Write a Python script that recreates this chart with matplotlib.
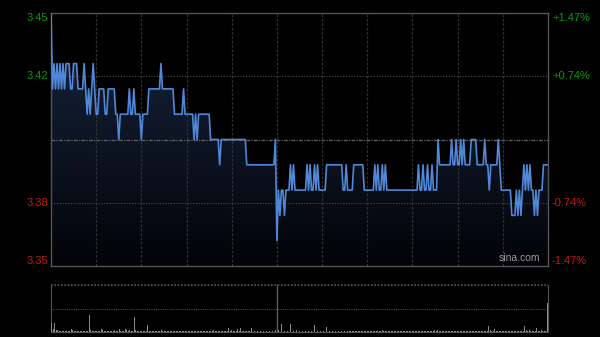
import numpy as np
import matplotlib
matplotlib.use("Agg")
import matplotlib.pyplot as plt
from matplotlib.colors import LinearSegmentedColormap
from matplotlib.patches import Polygon

# ---- data (HK intraday, 9:30-12:00 + 13:00-16:00, one point per minute) ----
prev_close = 3.40
y_ticks = [3.45, 3.42, 3.38, 3.35]
pct_ticks = ["+1.47%", "+0.74%", "-0.74%", "-1.47%"]

am_price = [3.45, 3.42, 3.43, 3.42, 3.43, 3.42, 3.43, 3.42, 3.43, 3.42,
            3.43, 3.42, 3.43, 3.42, 3.43, 3.42, 3.41, 3.42, 3.41, 3.42,
            3.43, 3.42, 3.41, 3.42, 3.41, 3.42, 3.41, 3.40, 3.41, 3.42,
            3.41, 3.42, 3.41, 3.40, 3.41, 3.42, 3.43, 3.42, 3.41, 3.42,
            3.41, 3.40, 3.41, 3.40, 3.41, 3.40, 3.39, 3.40, 3.39, 3.40]
am_len = [1, 1, 1, 1, 1, 1, 1, 1, 1, 1,
          3, 2, 3, 4, 1, 1, 1, 1, 1, 1,
          1, 1, 2, 4, 2, 5, 2, 1, 6, 1,
          2, 1, 4, 1, 4, 8, 1, 8, 6, 1,
          6, 1, 1, 1, 8, 6, 1, 17, 19, 1]

pm_price = [3.36, 3.38, 3.37, 3.38, 3.37, 3.38, 3.39, 3.38, 3.39, 3.38,
            3.39, 3.38, 3.39, 3.38, 3.39, 3.38, 3.39, 3.38, 3.39, 3.38,
            3.39, 3.38, 3.39, 3.38, 3.39, 3.38, 3.39, 3.38, 3.39, 3.38,
            3.39, 3.38, 3.39, 3.38, 3.39, 3.38, 3.39, 3.38, 3.39, 3.38,
            3.40, 3.39, 3.40, 3.39, 3.40, 3.39, 3.40, 3.39, 3.40, 3.39,
            3.40, 3.39, 3.40, 3.39, 3.38, 3.39, 3.40, 3.39, 3.38, 3.37,
            3.38, 3.37, 3.38, 3.37, 3.38, 3.39, 3.38, 3.39, 3.38, 3.39,
            3.38, 3.37, 3.38, 3.37, 3.38, 3.39]
pm_len = [1, 1, 1, 2, 1, 3, 1, 1, 1, 8,
          1, 1, 1, 2, 1, 1, 1, 5, 11, 2,
          1, 4, 7, 7, 1, 1, 1, 2, 1, 1,
          1, 21, 1, 2, 1, 2, 1, 2, 1, 3,
          1, 8, 1, 2, 1, 2, 1, 1, 1, 4,
          4, 5, 1, 2, 1, 5, 1, 1, 7, 3,
          1, 1, 1, 1, 1, 1, 1, 1, 1, 1,
          2, 1, 1, 1, 3, 4]

volume = [20, 6, 20, 5, 4, 3, 3, 2, 2, 3,
          2, 3, 2, 6, 4, 3, 2, 2, 3, 2,
          2, 3, 2, 3, 2, 37, 5, 3, 2, 2,
          3, 2, 2, 6, 4, 3, 2, 2, 3, 2,
          2, 3, 5, 2, 3, 6, 3, 2, 2, 7,
          4, 3, 5, 2, 3, 31, 4, 3, 2, 3,
          2, 3, 2, 3, 15, 3, 2, 2, 3, 2,
          2, 3, 2, 4, 2, 2, 3, 2, 2, 2,
          3, 2, 2, 2, 3, 2, 2, 2, 3, 2,
          2, 2, 3, 2, 2, 2, 3, 2, 2, 3,
          2, 3, 2, 2, 2, 3, 2, 2, 4, 2,
          2, 3, 2, 2, 2, 3, 2, 3, 8, 3,
          4, 2, 3, 2, 6, 2, 8, 3, 2, 2,
          3, 2, 2, 9, 4, 3, 2, 3, 2, 2,
          2, 3, 2, 2, 2, 3, 2, 3, 6, 4,
          18, 4, 3, 16, 3, 2, 3, 2, 3, 16,
          3, 3, 29, 4, 3, 2, 2, 3, 2, 2,
          3, 2, 2, 3, 2, 15, 3, 2, 3, 2,
          2, 3, 2, 10, 3, 2, 2, 3, 2, 2,
          3, 2, 2, 2, 3, 2, 2, 2, 3, 2,
          2, 3, 2, 2, 2, 3, 2, 2, 3, 2,
          2, 3, 2, 2, 3, 2, 2, 3, 2, 2,
          4, 2, 3, 2, 2, 3, 2, 2, 2, 3,
          2, 2, 3, 2, 2, 2, 3, 2, 2, 2,
          3, 2, 2, 2, 3, 2, 2, 2, 3, 2,
          2, 3, 2, 2, 2, 5, 3, 4, 2, 3,
          2, 2, 3, 2, 2, 2, 3, 2, 2, 2,
          3, 2, 2, 2, 3, 2, 2, 2, 3, 2,
          2, 3, 2, 2, 3, 2, 2, 3, 2, 2,
          3, 12, 4, 3, 2, 6, 3, 2, 2, 3,
          2, 2, 3, 2, 2, 3, 2, 2, 3, 2,
          2, 3, 2, 2, 3, 12, 4, 2, 5, 3,
          2, 3, 2, 8, 3, 2, 5, 3, 2, 3,
          62]

price = np.concatenate([np.repeat(am_price, am_len), np.repeat(pm_price, pm_len)])
minutes = np.arange(len(price))
n_end = len(price) - 1
lunch = 150
ylo, yhi = 3.35, 3.45

green = "#0a9a0a"
red = "#c41a10"
grid_c = "#333333"

fig = plt.figure(figsize=(6, 3.37), dpi=100, facecolor="black")
plt.rcParams['font.family'] = ['Liberation Sans', 'DejaVu Sans']

# ---- price panel ----
ax = fig.add_axes([51/600, 1-266/337, 497/600, 253/337])
ax.set_facecolor("black")
ax.set_xlim(0, n_end)
ax.set_ylim(ylo, yhi)

# gradient fill under the line
verts = list(zip(minutes, price)) + [(n_end, ylo), (0, ylo)]
patch = Polygon(verts, closed=True, facecolor="none", edgecolor="none")
ax.add_patch(patch)
cmap = LinearSegmentedColormap.from_list("fill", ["#020307", "#16233b"])
grad = np.linspace(0, 1, 256).reshape(-1, 1)
im = ax.imshow(grad, extent=[0, n_end, ylo, 3.44], origin="lower", aspect="auto",
               cmap=cmap, zorder=1)
im.set_clip_path(patch)

# grid sits over the fill, under the line
for m in range(30, n_end, 30):
    ax.axvline(m, color=grid_c, lw=0.9, ls=(0, (2, 1.5)), zorder=2)
for yv in [3.375, 3.425]:
    ax.axhline(yv, color="#4a4a4a", lw=0.8, ls=(0, (1, 1.5)), zorder=2)
ax.axhline(prev_close, color="#606060", lw=0.9, ls=(0, (3, 1, 1, 1)), zorder=2)

ax.plot(minutes, price, color="#5088d8", lw=1.2, zorder=3)

for s in ax.spines.values():
    s.set_color("#555555")
    s.set_linewidth(1)
ax.set_xticks([])
ax.set_yticks([])

# axis labels drawn as text so top/bottom sit inside the frame
vas = ["top", "center", "center", "bottom"]
ypos = [yhi, 3.425, 3.375, ylo]
for i in range(4):
    col = green if i < 2 else red
    ax.text(-0.006, ypos[i], "%.2f" % y_ticks[i], color=col, fontsize=8,
            ha="right", va=vas[i], transform=ax.get_yaxis_transform())
    ax.text(1.008, ypos[i], pct_ticks[i], color=col, fontsize=8,
            ha="left", va=vas[i], transform=ax.get_yaxis_transform())

ax.text(0.985, 0.01, "sina.com", color="#9a9a9a", fontsize=7.5,
        ha="right", va="bottom", transform=ax.transAxes)

# ---- volume panel ----
vx = fig.add_axes([51/600, 1-332/337, 497/600, 47/337])
vx.set_facecolor("black")
vx.set_xlim(-0.5, n_end + 0.5)
vx.set_ylim(0, 100)
vx.bar(minutes, volume, width=0.6, color="#8a8a8a", zorder=3)
vx.axhline(50, color="#4a4a4a", lw=0.8, ls=(0, (1, 1)))
vx.axhline(100, color="#5a5a5a", lw=1.2, ls=(0, (1, 1)), clip_on=False)
vx.axvline(lunch, color="#5a5a5a", lw=1)
vx.spines["top"].set_visible(False)
for k in ["left", "right", "bottom"]:
    vx.spines[k].set_color("#555555")
vx.set_xticks([])
vx.set_yticks([])

fig.savefig("out.png", dpi=100, facecolor="black")
